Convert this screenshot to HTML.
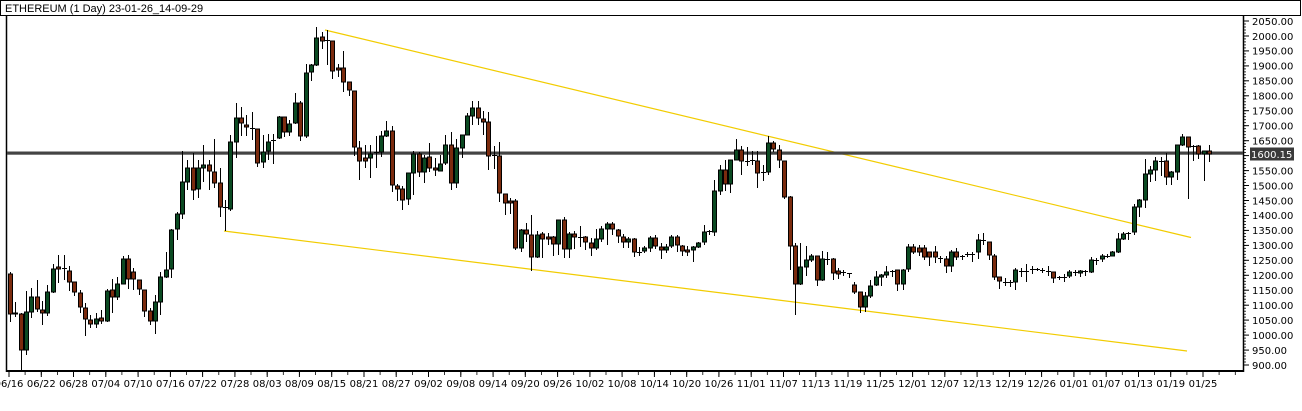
<!DOCTYPE html>
<html><head><meta charset="utf-8">
<style>
html,body{margin:0;padding:0;background:#fff;}
svg{display:block;font-family:"DejaVu Sans","Liberation Sans",sans-serif;}
</style></head>
<body>
<svg id="c" width="1302" height="411" xmlns="http://www.w3.org/2000/svg">
<rect x="0" y="0" width="1302" height="411" fill="#fff"/>
<rect x="0.5" y="0.5" width="1300" height="15" fill="#fff" stroke="#000"/>
<text x="5" y="12" font-size="11" fill="#000" font-family="Liberation Sans, sans-serif">ETHEREUM (1 Day) 23-01-26_14-09-29</text>
<g id="g"></g>
</svg>
<script>
var D=[
[274,314,272,322],[313,314,302,317],[314,350,313,370],[350,312,291,355],[312,297,288,318],[297,309,280,312],[310,313,301,325],[313,292,285,316],[292,269,264,293],[267,269,255,283],
[268,268.5,255,280],[271,282,266,291],[282,292,282,296],[293,307,290,313],[308,319,303,336],[320,324,315,328],[324,319,313,328],[318,321,310,324],[321,291,289,322],[290,297,279,313],
[297,284,277,300],[284,259,256,283],[259,279,255,289],[272,279,268,290],[280,289,280,295],[290,311,290,317],[311,321,308,325],[321,302,295,334],[302,277,272,315],[277,270,252,278],
[269,230,229,278],[229,214,212,240],[214,182,151,219],[182,168,160,190],[168,190,153,200],[189,168,160,198],[168,165,145,182],[165,171,160,190],[172,183,139,188],[183,207,168,217],
[207,207.5,200,231],[209,142,135,211],[142,118,103,158],[118,123,107,136],[125,127,115,136],[128,128.5,112,140],[129,163,129,167],[162,152,135,168],[151,142,134,160],[140,140.5,134,164],
[138,117,116,139],[117,132,117,137],[132,124,120,136],[123,103,93,124],[103,136,101,141],[136,73,64,138],[72,65,64,81],[65,38,27,66],[37,41,32,49],[40,40.5,30,65],
[41,71,41,79],[68,70,64,77],[68,82,51,92],[82,90,82,96],[91,147,91,156],[148,161,141,180],[158,161,145,168],[158,154,145,178],[152,152.5,136,168],[152,136,131,157],
[136,131,121,137],[131,185,126,192],[186,189,184,201],[189,200,186,210],[199,173,173,205],[173,154,151,195],[154,172,152,177],[172,158,155,183],[157,168,143,172],
[168,170,158,176],[171,164,155,171],[163,145,135,165],[145,183,132,190],[183,148,139,188],[148,135,135,158],[135,116,113,125],[116,108,101,125],[108,118,101,125],[119,122,111,135],
[122,156,112,170],[155,155.5,146,169],[156,193,142,202],[194,203,194,215],[201,203,198,214],[201,248,199,250],[248,230,229,252],[230,234,223,242],[235,257,215,271],[257,235,231,258],
[234,239,232,258],[237,239,233,245],[237,244,236,256],[244,220,220,255],[220,249,217,258],[249,234,232,258],[234,237,231,249],[237,237.5,226,247],[237,242,236,250],[243,248,238,256],
[248,239,229,250],[239,229,226,242],[229,224,222,245],[224,229,222,235],[230,236,229,243],[237,242,234,248],[242,239,237,248],[239,252,238,257],[252,252.5,247,256],[251,248,246,253],
[248,238,236,252],[238,246,235,249],[247,250,243,259],[250,247,244,253],[246,237,235,248],[237,245,235,252],[246,251,245,256],[250,252,246,256],[250,247,246,262],[247,243,242,248],
[242,232,225,245],[231,231.5,230,235],[232,191,180,236],[191,170,165,195],[170,184,160,191],[184,160,160,193],[160,150,139,155],[150,161,146,175],[161,161.5,147,166],[160,160.5,151,165],
[161,173,151,188],[172,172.5,165,181],[172,143,136,175],[143,149,141,152],[150,160,145,168],[161,197,161,199],[197,246,196,270],[246,284,243,315],[284,267,243,285],[267,260,246,276],
[260,256,254,262],[256,280,256,286],[280,259,251,281],[259,259.5,252,265],[259,273,258,280],[271,274,268,279],[272,272.5,270,276],[273,273.5,273,278],[285,292,282,294],[292,307,292,313],
[307,296,292,312],[296,286,280,298],[285,277,271,286],[277,275,274,286],[275,272,266,278],[271,271.5,270,277],[270,284,270,291],[284,270,269,290],[269,247,244,272],[247,252,244,254],
[248,252,245,256],[248,257,245,260],[252,257,253,266],[252,257,246,263],[258,258.5,256,263],[259,266,256,273],[266,252,250,272],[252,257,248,260],[256,256.5,255,260],[254,254.5,252,257],
[254,254.5,252,262],[252,240,234,259],[240,240.5,233,245],[242,255,242,260],[256,277,254,280],[277,281,277,289],[282,282.5,278,286],[282,282.5,280,287],[282,270,268,290],[271,271.5,268,277],
[271,271.5,264,282],[269,269.5,266,274],[269,269.5,268,271],[270,270.5,268,273],[271,271.5,266,276],[272,278,272,283],[277,277.5,276,280],[277,277.5,274,282],[276,272,270,278],[272,272.5,270,276],
[273,271,270,277],[271,271.5,270,276],[272,260,257,273],[260,260.5,258,265],[259,256,254,262],[256,256.5,254,258],[256,252,251,256],[252,239,233,253],[239,234,232,240],[233,233.5,232,240],
[232,207,204,235],[207,200,199,217],[200,174,159,208],[174,170,166,182],[170,161,157,181],[161,161.5,157,176],[161,177,153,185],[177,172,171,185],[172,145,145,180],[145,137,134,146],
[137,147,137,199],[146,146.5,145,161],[146,154,145,159],[154,151,151,181],[151,154,145,162]
];
var s='',i;
s+='<line x1="6.5" y1="15" x2="6.5" y2="372" stroke="#000" stroke-width="1.5"/>';
s+='<line x1="1243.5" y1="15" x2="1243.5" y2="372" stroke="#000" stroke-width="1.5"/>';
s+='<line x1="6" y1="371" x2="1244" y2="371" stroke="#000" stroke-width="2"/>';
s+='<line x1="325" y1="30" x2="1191" y2="237.5" stroke="#f2cc00" stroke-width="1.2"/>';
s+='<line x1="224" y1="231" x2="1187" y2="351" stroke="#f2cc00" stroke-width="1.2"/>';
s+='<rect x="7" y="151.5" width="1236" height="3.2" fill="#444"/>';
for(i=0;i<D.length;i++){
 var d=D[i],x=Math.round(9.8+i*5.378),o=d[0],c=d[1],h=d[2],l=d[3];
 s+='<line x1="'+(x+0.5)+'" y1="'+h+'" x2="'+(x+0.5)+'" y2="'+l+'" stroke="#000" stroke-width="1"/>';
 var t=Math.min(o,c),b=Math.max(o,c);if(b-t<1)b=t+1;
 var col=c<o?'#0b4a22':'#7b2b0e';
 if(Math.abs(o-c)<=0.6){s+='<line x1="'+(x-2)+'" y1="'+(t+0.5)+'" x2="'+(x+3)+'" y2="'+(t+0.5)+'" stroke="#000" stroke-width="1"/>';}
 else s+='<rect x="'+(x-1.5)+'" y="'+t+'" width="4" height="'+(b-t)+'" fill="'+col+'" stroke="#000" stroke-width="1"/>';
}
for(i=0;i<=23;i++){
 var y=21+i*14.957,p=2050-i*50;
 s+='<line x1="1244" y1="'+y.toFixed(1)+'" x2="1249" y2="'+y.toFixed(1)+'" stroke="#000"/>';
 s+='<text x="1252" y="'+(y+3.8).toFixed(1)+'" font-size="10" fill="#000">'+p.toFixed(2)+'</text>';
}
for(i=0;i<115;i++){var y=21+i*2.9914;s+='<line x1="1244" y1="'+y.toFixed(1)+'" x2="1246" y2="'+y.toFixed(1)+'" stroke="#000" stroke-width="0.8"/>';}
s+='<rect x="1250" y="147.5" width="44" height="13" fill="#3a3a3a"/>';
s+='<text x="1251" y="158" font-size="10" fill="#fff">1600.15</text>';
var L=['06/16','06/22','06/28','07/04','07/10','07/16','07/22','07/28','08/03','08/09','08/15','08/21','08/27','09/02','09/08','09/14','09/20','09/26','10/02','10/08','10/14','10/20','10/26','11/01','11/07','11/13','11/19','11/25','12/01','12/07','12/13','12/19','12/26','01/01','01/07','01/13','01/19','01/25'];
for(i=0;i<L.length;i++){
 var x=9+i*32.27;
 s+='<line x1="'+x.toFixed(1)+'" y1="372" x2="'+x.toFixed(1)+'" y2="377" stroke="#000"/>';
 s+='<text x="'+x.toFixed(1)+'" y="387" font-size="10" text-anchor="middle" fill="#000">'+L[i]+'</text>';
}
for(i=0;i<77;i++){var x=9+i*16.135;s+='<line x1="'+x.toFixed(1)+'" y1="372" x2="'+x.toFixed(1)+'" y2="375" stroke="#000" stroke-width="0.8"/>';}
document.getElementById('g').innerHTML=s;
</script>
</body></html>
